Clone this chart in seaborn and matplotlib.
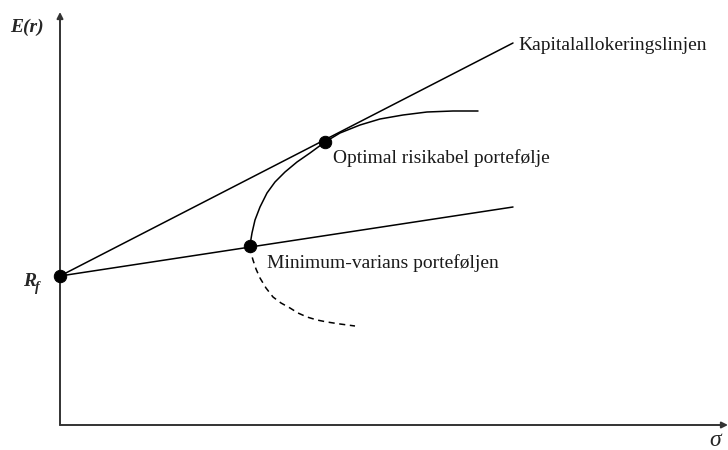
import matplotlib
matplotlib.use("Agg")
import matplotlib.pyplot as plt
import seaborn as sns
import pandas as pd

# ---- data (sigma, expected return) in chart units ----
rf_point = [0, 149]
optimal_point = [265, 283]
minvar_point = [190, 179]

cal_sigma = [0, 453]
cal_er = [149, 382]

mvline_sigma = [0, 453]
mvline_er = [149, 218]

frontier_sigma = [190, 191, 192, 195, 200, 207, 215, 225, 237, 250, 265, 280, 300, 320, 343, 367, 393, 418]
frontier_er = [179, 186, 192, 205, 218, 232, 243, 253, 263, 272, 283, 292, 300, 306, 310, 313, 314, 314]

lower_sigma = [190, 191, 193, 196, 200, 206, 213, 221, 230, 238, 247, 257, 267, 280, 295]
lower_er = [178, 172, 165, 156, 147, 137, 128, 122, 117, 112, 108, 105, 103, 101, 99]

labels = ["Kapitalallokeringslinjen", "Optimal risikabel portefølje", "Minimum-varians porteføljen"]

sns.set_theme(style="white")
plt.rcParams["font.family"] = ["Liberation Serif", "DejaVu Serif"]

fig = plt.figure(figsize=(7.28, 4.5), dpi=100)
ax = fig.add_axes([60 / 728, 25 / 450, 668 / 728, 413 / 450])
ax.set_xlim(0, 668)
ax.set_ylim(0, 413)
for s in ax.spines.values():
    s.set_visible(False)
ax.set_xticks([])
ax.set_yticks([])
ax.patch.set_alpha(0)

axis_col = "#333333"
# axes with arrows
ax.annotate("", xy=(668, 0), xytext=(0, 0),
            arrowprops=dict(arrowstyle="-|>", color=axis_col, lw=1.4, mutation_scale=9,
                            shrinkA=0, shrinkB=0), annotation_clip=False)
ax.annotate("", xy=(0, 413), xytext=(0, 0),
            arrowprops=dict(arrowstyle="-|>", color=axis_col, lw=1.4, mutation_scale=9,
                            shrinkA=0, shrinkB=0), annotation_clip=False)

lw = 1.1
sns.lineplot(x=cal_sigma, y=cal_er, ax=ax, color="black", lw=lw, sort=False)
sns.lineplot(x=mvline_sigma, y=mvline_er, ax=ax, color="black", lw=lw, sort=False)
sns.lineplot(x=frontier_sigma, y=frontier_er, ax=ax, color="black", lw=lw, sort=False)
sns.lineplot(x=lower_sigma, y=lower_er, ax=ax, color="black", lw=lw, sort=False)
ax.lines[-1].set_linestyle((0, (4, 3)))

pts = pd.DataFrame({"s": [rf_point[0], optimal_point[0], minvar_point[0]],
                    "e": [rf_point[1], optimal_point[1], minvar_point[1]]})
sns.scatterplot(data=pts, x="s", y="e", ax=ax, color="black", s=80, edgecolor="black",
                zorder=5, clip_on=False)
ax.set_xlabel("")
ax.set_ylabel("")

fs = 14
tc = "#1a1a1a"
ax.text(458, 379, labels[0], fontsize=fs, va="center", ha="left", color=tc)
ax.text(273, 267, labels[1], fontsize=fs, va="center", ha="left", color=tc)
ax.text(207, 162, labels[2], fontsize=fs, va="center", ha="left", color=tc)

# axis labels
fig.text(27 / 728, 1 - 27 / 450, "E(r)", fontsize=14, fontweight="bold", fontstyle="italic",
         ha="center", va="center")
fig.text(23 / 728, 1 - 281 / 450, "R", fontsize=14, fontweight="bold", fontstyle="italic",
         ha="left", va="center")
fig.text(35 / 728, 1 - 288 / 450, "f", fontsize=10, fontweight="bold", fontstyle="italic",
         ha="left", va="center")
fig.text(715 / 728, 1 - 440 / 450, "σ", fontsize=17, fontstyle="italic",
         ha="center", va="center")

fig.savefig("out.png", dpi=100, facecolor="white")
